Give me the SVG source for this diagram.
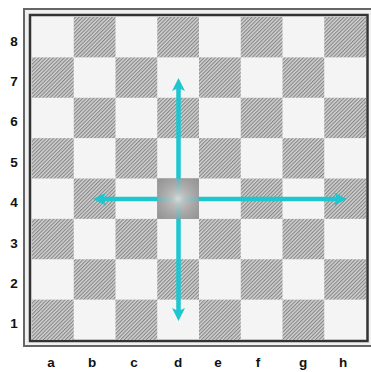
<svg xmlns="http://www.w3.org/2000/svg" width="371" height="372" viewBox="0 0 371 372">
<style>
.dk{fill:url(#hatch)}
.lbl{font-family:"Liberation Sans",Arial,sans-serif;font-weight:bold;font-size:13.5px;fill:#111;text-anchor:middle}
.arr{stroke:#1ec6d0;stroke-width:4.5;fill:none;marker-end:url(#head)}
</style>
<defs>
<pattern id="hatch" patternUnits="userSpaceOnUse" width="2.6" height="2.6" patternTransform="rotate(45)">
<rect width="2.6" height="2.6" fill="#d2d2d2"/>
<rect width="1.1" height="2.6" fill="#858585"/>
</pattern>
<marker id="head" markerUnits="userSpaceOnUse" markerWidth="14" markerHeight="14" viewBox="0 0 14 14" refX="6" refY="7" orient="auto">
<path d="M0,0.5 L13,7 L0,13.5 L3,7 Z" fill="#1ec6d0"/>
</marker>
<radialGradient id="ctr" cx="0.5" cy="0.5" r="0.7">
<stop offset="0" stop-color="#d8d8d8" stop-opacity="1"/>
<stop offset="0.2" stop-color="#c4c4c4" stop-opacity="0.9"/>
<stop offset="1" stop-color="#8e8e8e" stop-opacity="0.55"/>
</radialGradient>
</defs>
<rect width="371" height="372" fill="#ffffff"/>
<g id="frame">
<rect x="24" y="9" width="350" height="337" fill="#f0f0f0" stroke="#666" stroke-width="2"/>
<rect x="30" y="15" width="337.5" height="326" fill="#f4f4f4" stroke="#333" stroke-width="2.5"/>
</g>
<g id="board">
<g id="r8"><rect class="dk" x="73.75" y="17" width="41.75" height="40.375"/><rect class="dk" x="157.25" y="17" width="41.75" height="40.375"/><rect class="dk" x="240.75" y="17" width="41.75" height="40.375"/><rect class="dk" x="324.25" y="17" width="41.75" height="40.375"/></g>
<g id="r7"><rect class="dk" x="32" y="57.375" width="41.75" height="40.375"/><rect class="dk" x="115.5" y="57.375" width="41.75" height="40.375"/><rect class="dk" x="199" y="57.375" width="41.75" height="40.375"/><rect class="dk" x="282.5" y="57.375" width="41.75" height="40.375"/></g>
<g id="r6"><rect class="dk" x="73.75" y="97.75" width="41.75" height="40.375"/><rect class="dk" x="157.25" y="97.75" width="41.75" height="40.375"/><rect class="dk" x="240.75" y="97.75" width="41.75" height="40.375"/><rect class="dk" x="324.25" y="97.75" width="41.75" height="40.375"/></g>
<g id="r5"><rect class="dk" x="32" y="138.125" width="41.75" height="40.375"/><rect class="dk" x="115.5" y="138.125" width="41.75" height="40.375"/><rect class="dk" x="199" y="138.125" width="41.75" height="40.375"/><rect class="dk" x="282.5" y="138.125" width="41.75" height="40.375"/></g>
<g id="r4"><rect class="dk" x="73.75" y="178.5" width="41.75" height="40.375"/><rect class="dk" x="157.25" y="178.5" width="41.75" height="40.375"/><rect class="dk" x="240.75" y="178.5" width="41.75" height="40.375"/><rect class="dk" x="324.25" y="178.5" width="41.75" height="40.375"/></g>
<g id="r3"><rect class="dk" x="32" y="218.875" width="41.75" height="40.375"/><rect class="dk" x="115.5" y="218.875" width="41.75" height="40.375"/><rect class="dk" x="199" y="218.875" width="41.75" height="40.375"/><rect class="dk" x="282.5" y="218.875" width="41.75" height="40.375"/></g>
<g id="r2"><rect class="dk" x="73.75" y="259.25" width="41.75" height="40.375"/><rect class="dk" x="157.25" y="259.25" width="41.75" height="40.375"/><rect class="dk" x="240.75" y="259.25" width="41.75" height="40.375"/><rect class="dk" x="324.25" y="259.25" width="41.75" height="40.375"/></g>
<g id="r1"><rect class="dk" x="32" y="299.625" width="41.75" height="40.375"/><rect class="dk" x="115.5" y="299.625" width="41.75" height="40.375"/><rect class="dk" x="199" y="299.625" width="41.75" height="40.375"/><rect class="dk" x="282.5" y="299.625" width="41.75" height="40.375"/></g>
</g>
<g id="d4-base"><rect x="157.25" y="178.5" width="41.75" height="40.375" fill="#9a9a9a"/></g>
<g id="connectors">
<line class="arr" x1="178.5" y1="199" x2="178.5" y2="85"/>
<line class="arr" x1="178.5" y1="199" x2="178.5" y2="314"/>
<line class="arr" x1="178.5" y1="199" x2="100" y2="199"/>
<line class="arr" x1="178.5" y1="199" x2="340" y2="199"/>
</g>
<g id="d4"><rect x="157.25" y="178.5" width="41.75" height="40.375" fill="url(#ctr)"/></g>
<g id="labels">
<text class="lbl" x="14" y="45.5">8</text>
<text class="lbl" x="14" y="86">7</text>
<text class="lbl" x="14" y="126">6</text>
<text class="lbl" x="14" y="167">5</text>
<text class="lbl" x="14" y="207">4</text>
<text class="lbl" x="14" y="247.5">3</text>
<text class="lbl" x="14" y="288">2</text>
<text class="lbl" x="14" y="328">1</text>
<text class="lbl" x="51" y="367">a</text>
<text class="lbl" x="92" y="367">b</text>
<text class="lbl" x="134" y="367">c</text>
<text class="lbl" x="178" y="367">d</text>
<text class="lbl" x="218" y="367">e</text>
<text class="lbl" x="258" y="367">f</text>
<text class="lbl" x="303" y="367">g</text>
<text class="lbl" x="343" y="367">h</text>
</g>
</svg>
